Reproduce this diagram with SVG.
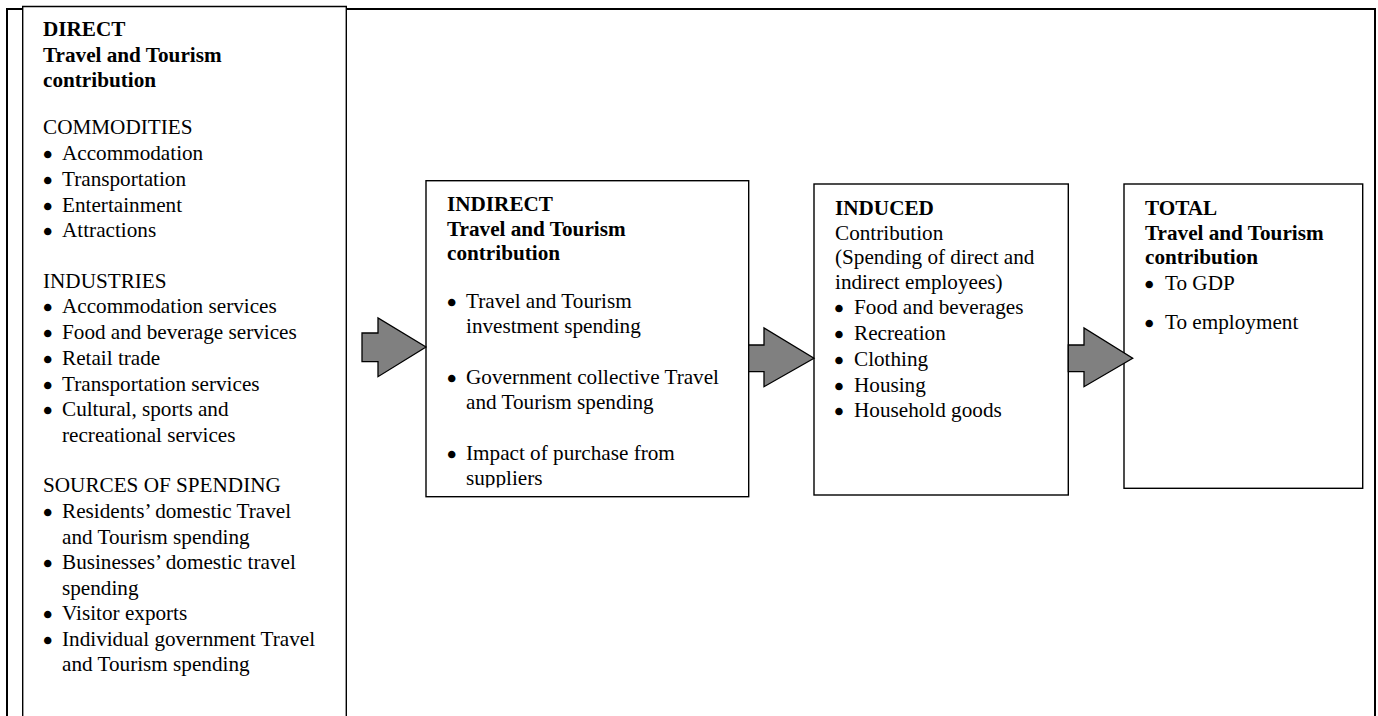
<svg xmlns="http://www.w3.org/2000/svg" width="1378" height="716" viewBox="0 0 1378 716">
  <style>
    text { font-family: "Liberation Serif", "Times New Roman", serif; font-size: 21.2px; fill: #000; }
    .b { font-weight: bold; }
    .bul { stroke: #000; stroke-width: 2.4; }
    .frame { fill: none; stroke: #000; stroke-width: 2; }
    .box { fill: #fff; stroke: #000; stroke-width: 1.4; }
    .arrow { fill: #808080; stroke: #000; stroke-width: 1.3; stroke-linejoin: miter; }
  </style>
  <defs>
    <!-- the last line of the indirect box is cut off by its text area -->
    <clipPath id="indirectClip">
      <rect x="426" y="181" width="323" height="306.5"/>
    </clipPath>
  </defs>

  <!-- outer page frame, open at the bottom -->
  <path class="frame" d="M7,716 V9 H1375 V716"/>

  <!-- DIRECT contribution column -->
  <g id="direct">
    <path class="box" d="M22.7,716 V6.5 H346.3 V716"/>
    <text class="b" x="43" y="36">DIRECT</text>
    <text class="b" x="43" y="61.5">Travel and Tourism</text>
    <text class="b" x="43" y="87">contribution</text>
    <text x="43" y="134">COMMODITIES</text>
    <text class="bul" x="44" y="162">•</text><text x="62" y="160">Accommodation</text>
    <text class="bul" x="44" y="188">•</text><text x="62" y="186">Transportation</text>
    <text class="bul" x="44" y="213.5">•</text><text x="62" y="211.5">Entertainment</text>
    <text class="bul" x="44" y="239">•</text><text x="62" y="237">Attractions</text>
    <text x="43" y="287.5">INDUSTRIES</text>
    <text class="bul" x="44" y="315">•</text><text x="62" y="313">Accommodation services</text>
    <text class="bul" x="44" y="341">•</text><text x="62" y="339">Food and beverage services</text>
    <text class="bul" x="44" y="366.5">•</text><text x="62" y="364.5">Retail trade</text>
    <text class="bul" x="44" y="392.5">•</text><text x="62" y="390.5">Transportation services</text>
    <text class="bul" x="44" y="418">•</text><text x="62" y="416">Cultural, sports and</text>
    <text x="62" y="441.5">recreational services</text>
    <text x="43" y="492">SOURCES OF SPENDING</text>
    <text class="bul" x="44" y="520">•</text><text x="62" y="518">Residents’ domestic Travel</text>
    <text x="62" y="543.5">and Tourism spending</text>
    <text class="bul" x="44" y="571">•</text><text x="62" y="569">Businesses’ domestic travel</text>
    <text x="62" y="594.5">spending</text>
    <text class="bul" x="44" y="622">•</text><text x="62" y="620">Visitor exports</text>
    <text class="bul" x="44" y="647.5">•</text><text x="62" y="645.5">Individual government Travel</text>
    <text x="62" y="671">and Tourism spending</text>
  </g>

  <!-- INDIRECT contribution -->
  <g id="indirect">
    <rect class="box" x="426" y="180.7" width="322.7" height="316"/>
    <g clip-path="url(#indirectClip)">
      <text class="b" x="447" y="210.5">INDIRECT</text>
      <text class="b" x="447" y="235.5">Travel and Tourism</text>
      <text class="b" x="447" y="259.5">contribution</text>
      <text class="bul" x="448" y="309.5">•</text><text x="466" y="307.5">Travel and Tourism</text>
      <text x="466" y="332.5">investment spending</text>
      <text class="bul" x="448" y="385.5">•</text><text x="466" y="383.5">Government collective Travel</text>
      <text x="466" y="408.5">and Tourism spending</text>
      <text class="bul" x="448" y="461.5">•</text><text x="466" y="459.5">Impact of purchase from</text>
      <text x="466" y="484.5">suppliers</text>
    </g>
  </g>

  <!-- INDUCED contribution -->
  <g id="induced">
    <rect class="box" x="814" y="184" width="254.3" height="311"/>
    <text class="b" x="835" y="215">INDUCED</text>
    <text x="835" y="239.5">Contribution</text>
    <text x="835" y="264">(Spending of direct and</text>
    <text x="835" y="288.5">indirect employees)</text>
    <text class="bul" x="835.3" y="316">•</text><text x="854" y="314">Food and beverages</text>
    <text class="bul" x="835.3" y="342">•</text><text x="854" y="340">Recreation</text>
    <text class="bul" x="835.3" y="367.5">•</text><text x="854" y="365.5">Clothing</text>
    <text class="bul" x="835.3" y="393.5">•</text><text x="854" y="391.5">Housing</text>
    <text class="bul" x="835.3" y="419">•</text><text x="854" y="417">Household goods</text>
  </g>

  <!-- TOTAL contribution -->
  <g id="total">
    <rect class="box" x="1124" y="184" width="238.7" height="304.3"/>
    <text class="b" x="1145" y="215">TOTAL</text>
    <text class="b" x="1145" y="239.5">Travel and Tourism</text>
    <text class="b" x="1145" y="264">contribution</text>
    <text class="bul" x="1145.6" y="291.5">•</text><text x="1165" y="289.5">To GDP</text>
    <text class="bul" x="1145.6" y="331">•</text><text x="1165" y="329">To employment</text>
  </g>

  <!-- block arrows between stages -->
  <g id="connectors">
    <path class="arrow" d="M362,333 H378 V318 L426,347 L378,376.7 V361.7 H362 Z"/>
    <path class="arrow" d="M748.7,345 H764 V328 L814,358.3 L764,386.7 V371.7 H748.7 Z"/>
    <path class="arrow" d="M1068.3,345 H1084 V328 L1132.7,358.3 L1084,386.7 V371.7 H1068.3 Z"/>
  </g>
</svg>
